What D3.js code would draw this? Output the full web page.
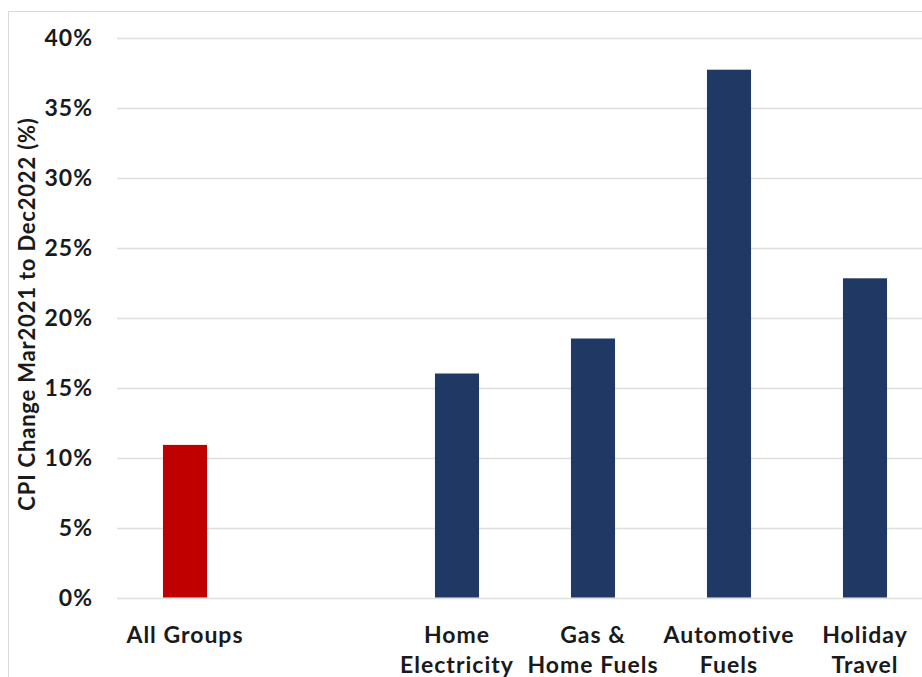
<!DOCTYPE html>
<html>
<head>
<meta charset="utf-8">
<script src="https://cdn.jsdelivr.net/npm/d3@7"></script>
<style>
  html, body { margin: 0; padding: 0; background: #ffffff; }
  svg { display: block; }
  text { font-family: Lato, "Open Sans", sans-serif; font-weight: 700; fill: #1a1a1a; }
</style>
</head>
<body>
<svg id="chart" width="922" height="677"></svg>
<script>
// Categories (a blank slot separates the overall index from the energy groups)
const categories = ["All Groups", "", "Home\nElectricity", "Gas &\nHome Fuels", "Automotive\nFuels", "Holiday\nTravel"];
// CPI change, Mar 2021 to Dec 2022, in percent
const cpiChange = [10.9, null, 16.0, 18.5, 37.7, 22.8];
// Y-axis ticks
const yTicks = [0, 5, 10, 15, 20, 25, 30, 35, 40];
const yTitle = "CPI Change Mar2021 to Dec2022 (%)";

const svg = d3.select("#chart");
const W = 922, H = 677;

const plot = { left: 117, right: 933, top: 37.5, bottom: 597.5 };

// Chart-area frame
svg.append("path")
  .attr("d", `M8.5,${H} V11.5 H${W}`)
  .attr("fill", "none")
  .attr("stroke", "#d9d9d9")
  .attr("stroke-width", 1);

const x = d3.scaleBand()
  .domain(categories)
  .range([plot.left, plot.right])
  .paddingInner(0.676)
  .paddingOuter(0.338);

const y = d3.scaleLinear()
  .domain([0, 40])
  .range([plot.bottom, plot.top]);

// Horizontal gridlines
svg.append("g")
  .selectAll("line")
  .data(yTicks)
  .join("line")
  .attr("x1", plot.left)
  .attr("x2", W)
  .attr("y1", d => Math.round(y(d)) + 0.5)
  .attr("y2", d => Math.round(y(d)) + 0.5)
  .attr("stroke", "#dedede")
  .attr("stroke-width", 1.5);

// Y-axis tick labels
const yAxis = d3.axisLeft(y)
  .tickValues(yTicks)
  .tickFormat(d => d + "%")
  .tickSize(0)
  .tickPadding(0);

const gy = svg.append("g")
  .attr("transform", "translate(93,0)")
  .call(yAxis);
gy.select(".domain").remove();
gy.selectAll("text")
  .attr("font-family", "Lato, 'Open Sans', sans-serif")
  .attr("font-weight", 700)
  .attr("font-size", 23)
  .attr("letter-spacing", 1)
  .attr("fill", "#1a1a1a")
  .attr("dy", "0.36em");

// Bars
const barData = categories.map((c, i) => ({ c, v: cpiChange[i] })).filter(d => d.v != null);
svg.append("g")
  .selectAll("rect")
  .data(barData)
  .join("rect")
  .attr("x", d => x(d.c))
  .attr("width", x.bandwidth())
  .attr("y", d => y(d.v))
  .attr("height", d => y(0) - y(d.v))
  .attr("fill", d => d.c === "All Groups" ? "#c00000" : "#203864");

// Category labels (two lines where needed)
const xLabels = svg.append("g")
  .selectAll("text")
  .data(categories)
  .join("text")
  .attr("x", d => x(d) + x.bandwidth() / 2)
  .attr("y", 643)
  .attr("text-anchor", "middle")
  .attr("font-size", 23)
  .attr("letter-spacing", 1);
xLabels.selectAll("tspan")
  .data(d => d.split("\n"))
  .join("tspan")
  .attr("x", function () { return d3.select(this.parentNode).attr("x"); })
  .attr("dy", (d, i) => i === 0 ? 0 : 30)
  .text(d => d);

// Y-axis title
svg.append("text")
  .attr("transform", "translate(35,314) rotate(-90)")
  .attr("text-anchor", "middle")
  .attr("font-size", 22)
  .attr("letter-spacing", 0.8)
  .text(yTitle);
</script>
</body>
</html>
